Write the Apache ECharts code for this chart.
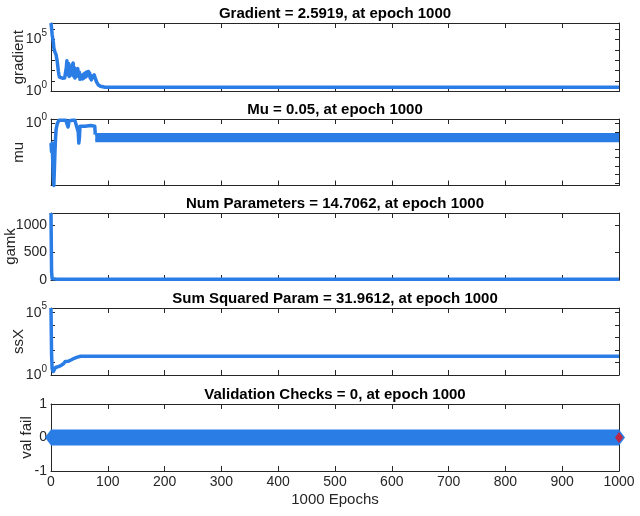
<!DOCTYPE html>
<html>
<head>
<meta charset="utf-8">
<title>Training state</title>
<script src="https://cdn.jsdelivr.net/npm/echarts@6/dist/echarts.min.js"></script>
<style>
  html, body { margin: 0; padding: 0; background: #fff; }
  #chart { width: 640px; height: 516px; }
</style>
</head>
<body>
<div id="chart"></div>
<script>
// titles and axis names
var titles = [
  'Gradient = 2.5919, at epoch 1000',
  'Mu = 0.05, at epoch 1000',
  'Num Parameters = 14.7062, at epoch 1000',
  'Sum Squared Param = 31.9612, at epoch 1000',
  'Validation Checks = 0, at epoch 1000'
];
var yNames = ['gradient', 'mu', 'gamk', 'ssX', 'val fail'];
var xName = '1000 Epochs';
var epochMin = 0, epochMax = 1000, epochStep = 100;

// gradient (log)
var gradEpoch = [0, 1, 2, 3, 4, 5, 6, 7, 8, 9, 10, 11, 12, 13, 14, 15, 16, 18, 20, 22, 24, 26,
  27, 28, 29, 30, 31, 32, 33, 34, 35, 36, 37, 38, 39, 40, 41, 42, 43, 44, 45, 46, 47, 48, 49, 50,
  51, 52, 53, 54, 55, 56, 57, 58, 59, 60, 61, 62, 63, 64, 65, 66, 67, 68, 69, 70, 71, 72, 73, 74,
  75, 76, 77, 78, 79, 80, 81, 82, 83, 85, 87, 90, 95, 1000];
var gradValue = [3.8e6, 1.2e6, 3e5, 1.2e5, 6e4, 1.5e4, 1e4, 6e3, 4e3, 3.4e3, 1.5e3, 760, 250, 90, 40, 24, 20, 24, 19, 25, 20, 24,
  200, 900, 1100, 40, 500, 28, 250, 35, 150, 60, 300, 450, 540, 30, 200, 20, 70, 25, 90, 120, 160, 180, 30, 70,
  15, 13, 20, 30, 16, 40, 18, 50, 22, 60, 25, 70, 30, 80, 40, 85, 35, 60, 20, 35, 13, 15, 25, 30,
  20, 40, 38, 18, 22, 9, 10, 6, 4.4, 3.8, 3.2, 2.8, 2.6, 2.5919];

// mu (log)
var muEpoch = [0, 1, 2, 3, 4, 5, 6, 7, 8, 9, 10, 11, 12, 13, 14, 16, 18, 20, 22, 24, 26, 28, 30, 31, 32,
  34, 38, 42, 44, 45, 46, 47, 48, 49, 50, 51, 52, 60, 70, 77, 78];
var muValue = [0.005, 5e-4, 0.005, 5e-5, 5e-7, 5e-8, 5e-6, 5e-4, 0.02, 0.2, 0.3, 1, 0.6, 1.5, 2.5, 2.2, 2.5, 2.2, 2.5, 2.2, 2.5, 1, 0.4, 0.6, 2.2,
  2.5, 2.5, 2.5, 2.2, 0.5, 0.4, 0.5, 0.1, 0.005, 0.02, 0.5, 0.6, 0.5, 0.6, 0.5, 0.05];
var muBandEpoch = [78, 1000];
var muBandLow = 0.01, muBandHigh = 0.05;

// gamk (linear)
var gamkEpoch = [0, 1, 2, 3, 5, 10, 20, 1000];
var gamkValue = [1213, 150, 25, 12, 15, 14, 15, 14.7062];

// ssX (log)
var ssxEpoch = [0, 1, 2, 4, 6, 8, 10, 14, 18, 20, 22, 25, 30, 33, 35, 38, 41, 45, 48, 52, 1000];
var ssxValue = [2.4e5, 50, 3, 1.9, 2.5, 4, 4.7, 5, 6, 6.3, 8, 12, 12.5, 14, 16, 18, 22, 26, 30, 31.96, 31.9612];

// val fail
var valEpoch = [0, 1000];
var valValue = [0, 0];
var bestEpoch = 1000, bestValue = 0;

// y scales and tick labels
var yType = ['log', 'log', 'value', 'log', 'value'];
var yMin = [1, 5e-8, 0, 1, -1];
var yMax = [3.8e6, 3.5, 1213, 2.4e5, 1];
var gamkTicks = [0, 500, 1000];
var valTicks = [-1, 0, 1];
var yTicks = [null, null, gamkTicks, null, valTicks];
var logLabels = [[0, 5], [0], null, [0, 5], null];

var FONT = '"Liberation Sans", Arial, Helvetica, sans-serif';
var BLUE = '#2b7de6';
var AXIS = '#262626';
var gridTop = [23, 119, 213, 308, 404];
var gridHeight = [68.5, 66.5, 67, 67, 67];
var nameGap = [25, 25, 33, 25, 17];

function pairs(xs, ys) {
  return xs.map(function (x, i) { return [x, ys[i]]; });
}

function logFormatter(i) {
  return function (v) {
    var e = Math.round(Math.log10(v));
    if (Math.abs(Math.log10(v) - e) > 1e-6 || logLabels[i].indexOf(e) < 0) return '';
    return '{b|10}{s|' + e + '}';
  };
}

var myChart = echarts.init(document.getElementById('chart'), null, { renderer: 'canvas' });
var option = {
  animation: false,
  backgroundColor: '#fff',
  textStyle: { fontFamily: FONT },
  title: [], grid: [], xAxis: [], yAxis: [], series: []
};

for (var i = 0; i < 5; i++) {
  var last = i === 4;
  option.grid.push({
    left: 51, right: 21, top: gridTop[i], height: gridHeight[i],
    outerBoundsMode: 'none'
  });
  option.title.push({
    text: titles[i], left: 335, top: gridTop[i] - 17, textAlign: 'center', padding: 0,
    textStyle: { fontSize: 15, fontWeight: 'bold', color: '#000', fontFamily: FONT }
  });
  [false, true].forEach(function (isTop) {
    option.xAxis.push({
      type: 'value', gridIndex: i, min: epochMin, max: epochMax, interval: epochStep,
      position: isTop ? 'top' : 'bottom',
      name: (last && !isTop) ? xName : '',
      nameLocation: 'middle', nameGap: 21, nameMoveOverlap: false,
      nameTextStyle: { fontSize: 15, color: AXIS, fontFamily: FONT },
      axisLine: { show: true, onZero: false, lineStyle: { color: AXIS, width: 1 } },
      axisTick: { show: true, inside: true, length: 5, lineStyle: { color: AXIS } },
      axisLabel: {
        show: last && !isTop, fontSize: 14, color: AXIS, margin: 4, fontFamily: FONT,
        formatter: function (v) { return String(v); }
      },
      splitLine: { show: false }
    });
    var y = {
      type: yType[i], gridIndex: i, min: yMin[i], max: yMax[i],
      position: isTop ? 'right' : 'left',
      name: isTop ? '' : yNames[i],
      nameLocation: 'middle', nameGap: nameGap[i], nameMoveOverlap: false,
      nameTextStyle: { fontSize: 15, color: AXIS, fontFamily: FONT },
      axisLine: { show: true, onZero: false, lineStyle: { color: AXIS, width: 1 } },
      axisTick: { show: true, inside: true, length: 4, lineStyle: { color: AXIS } },
      axisLabel: { show: !isTop, fontSize: 14, color: AXIS, margin: 4, fontFamily: FONT },
      splitLine: { show: false }
    };
    if (yType[i] === 'log') {
      y.axisLabel.formatter = logFormatter(i);
      y.axisLabel.rich = {
        b: { fontSize: 14, color: AXIS, fontFamily: FONT },
        s: { fontSize: 10, color: AXIS, fontFamily: FONT, padding: [0, 0, 12, 0] }
      };
    } else {
      y.axisLabel.formatter = function (v) { return String(v); };
      y.axisLabel.customValues = yTicks[i];
      y.axisTick.customValues = yTicks[i];
      // gamk labels go on their own overlay axis, kept apart from the axis name
      if (i === 2) y.axisLabel.show = false;
    }
    option.yAxis.push(y);
  });
}

// label-only overlay axis for the gamk panel
option.yAxis.push({
  type: 'value', gridIndex: 2, min: yMin[2], max: yMax[2], position: 'left',
  axisLine: { show: false }, axisTick: { show: false }, splitLine: { show: false },
  axisLabel: {
    show: true, fontSize: 14, color: AXIS, margin: 4, fontFamily: FONT,
    customValues: gamkTicks, interval: 0,
    formatter: function (v) { return String(v); }
  }
});

function lineSeries(gi, data, width) {
  return {
    type: 'line', xAxisIndex: 2 * gi, yAxisIndex: 2 * gi, data: data,
    symbol: 'none', showSymbol: false, clip: false,
    lineStyle: { color: BLUE, width: width, join: 'round' },
    itemStyle: { color: BLUE }
  };
}

option.series.push(lineSeries(0, pairs(gradEpoch, gradValue), 3.5));
option.series.push(lineSeries(1, pairs(muEpoch, muValue), 3.5));
var bandHigh = lineSeries(1, pairs(muBandEpoch, [muBandHigh, muBandHigh]), 3.5);
bandHigh.markArea = {
  silent: true,
  itemStyle: { color: BLUE, opacity: 1 },
  data: [[{ coord: [muBandEpoch[0], muBandLow] }, { coord: [muBandEpoch[1], muBandHigh] }]]
};
option.series.push(bandHigh);
option.series.push(lineSeries(1, pairs(muBandEpoch, [muBandLow, muBandLow]), 3.5));
option.series.push(lineSeries(2, pairs(gamkEpoch, gamkValue), 3.5));
option.series.push(lineSeries(3, pairs(ssxEpoch, ssxValue), 3.5));

var valLine = lineSeries(4, pairs(valEpoch, valValue), 16);
valLine.symbol = 'diamond';
valLine.showSymbol = true;
valLine.symbolSize = [12, 16];
option.series.push(valLine);
option.series.push({
  type: 'scatter', xAxisIndex: 8, yAxisIndex: 8, data: [[bestEpoch, bestValue]],
  symbol: 'diamond', symbolSize: [8, 11], clip: false, z: 5,
  itemStyle: { color: '#e3101c' }
});

myChart.setOption(option, true);
window.addEventListener('resize', function () {
  myChart.resize();
});
</script>
</body>
</html>
